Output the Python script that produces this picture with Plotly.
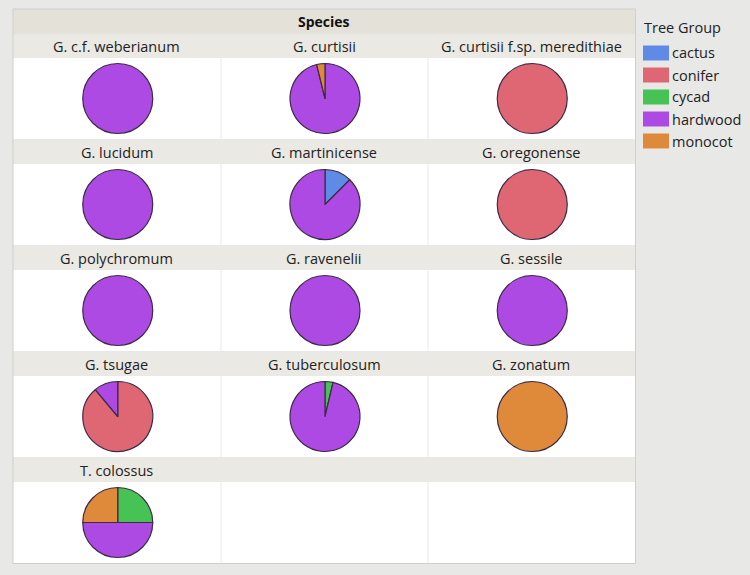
import plotly.graph_objects as go

W, H = 750, 575

species = ["G. c.f. weberianum", "G. curtisii", "G. curtisii f.sp. meredithiae",
           "G. lucidum", "G. martinicense", "G. oregonense",
           "G. polychromum", "G. ravenelii", "G. sessile",
           "G. tsugae", "G. tuberculosum", "G. zonatum",
           "T. colossus"]
groups = ["cactus", "conifer", "cycad", "hardwood", "monocot"]
colors = ["#5f8ae6", "#df6774", "#47c356", "#ae4ae4", "#df8a3a"]

# counts per species, in the order of `groups`
cactus   = [0, 0, 0, 0, 1, 0, 0, 0, 0, 0, 0, 0, 0]
conifer  = [0, 0, 3, 0, 0, 4, 0, 0, 0, 8, 0, 0, 0]
cycad    = [0, 0, 0, 0, 0, 0, 0, 0, 0, 0, 1, 0, 1]
hardwood = [5, 25, 0, 30, 7, 0, 4, 3, 2, 1, 26, 0, 2]
monocot  = [0, 1, 0, 0, 0, 0, 0, 0, 0, 0, 0, 2, 1]
series = [cactus, conifer, cycad, hardwood, monocot]

BG = "#e8e8e6"
HEAD = "#e3e1d8"
LAB = "#eae9e3"
FONT = "Open Sans"

col_edges = [13, 220.5, 427.5, 635]
row_tops = [35, 141, 247, 353, 459]
LAB_H, CELL_H = 23, 81
R = 35

fig = go.Figure()
shapes = []
annos = []

def px(x):
    return x / W

def py(y):
    return 1 - y / H

def rect(xa, ya, xb, yb, fill, line=None, lw=0):
    shapes.append(dict(type="rect", xref="paper", yref="paper",
                       x0=px(xa), x1=px(xb), y0=py(yb), y1=py(ya),
                       fillcolor=fill, line=dict(color=line or fill, width=lw),
                       layer="below"))

def text(t, x, y, size=14.5, anchor="center", color="#222"):
    annos.append(dict(text=t, x=px(x), y=py(y), xref="paper", yref="paper",
                      xanchor=anchor, yanchor="middle", showarrow=False,
                      font=dict(size=size, color=color, family=FONT)))

# top header
rect(13, 9, 635, 34, HEAD)
text("<b>Species</b>", 324, 21.5, size=14, color="#111")

for r, top in enumerate(row_tops):
    for c in range(3):
        xa, xb = col_edges[c] + (0 if c == 0 else 1), col_edges[c + 1]
        rect(xa, top, xb, top + LAB_H, LAB)
        rect(xa, top + LAB_H, xb, top + LAB_H + CELL_H, "white")
        i = r * 3 + c
        if i < len(species):
            mid = (col_edges[c] + col_edges[c + 1]) / 2
            text(species[i], mid, top + LAB_H / 2)
            cx = mid + 1
            cy = top + LAB_H + CELL_H / 2
            labs = [g for k, g in enumerate(groups) if series[k][i] > 0]
            vals = [series[k][i] for k in range(len(groups)) if series[k][i] > 0]
            cols = [colors[k] for k in range(len(groups)) if series[k][i] > 0]
            fig.add_trace(go.Pie(labels=labs, values=vals, sort=False, direction="clockwise",
                                 rotation=0, textinfo="none", hoverinfo="label+value",
                                 marker=dict(colors=cols, line=dict(color="#3d2b45", width=1.2)),
                                 domain=dict(x=[px(cx - R), px(cx + R)], y=[py(cy + R), py(cy - R)]),
                                 showlegend=False, name=species[i]))

# outer border
shapes.append(dict(type="rect", xref="paper", yref="paper", x0=px(13), x1=px(635.5),
                   y0=py(563.5), y1=py(9), line=dict(color="#cfcfcf", width=1), layer="below"))

# legend
text("Tree Group", 642, 28, anchor="left")
for k, g in enumerate(groups):
    yc = 53 + k * 22
    rect(643, yc - 7.5, 669, yc + 7.5, colors[k])
    text(g, 670, yc, anchor="left")

fig.update_layout(width=W, height=H, margin=dict(l=0, r=0, t=0, b=0),
                  paper_bgcolor=BG, plot_bgcolor=BG, shapes=shapes, annotations=annos,
                  showlegend=False)
fig.write_html("out.html", config={"displayModeBar": False},
               post_script="document.body.style.margin='0';")
